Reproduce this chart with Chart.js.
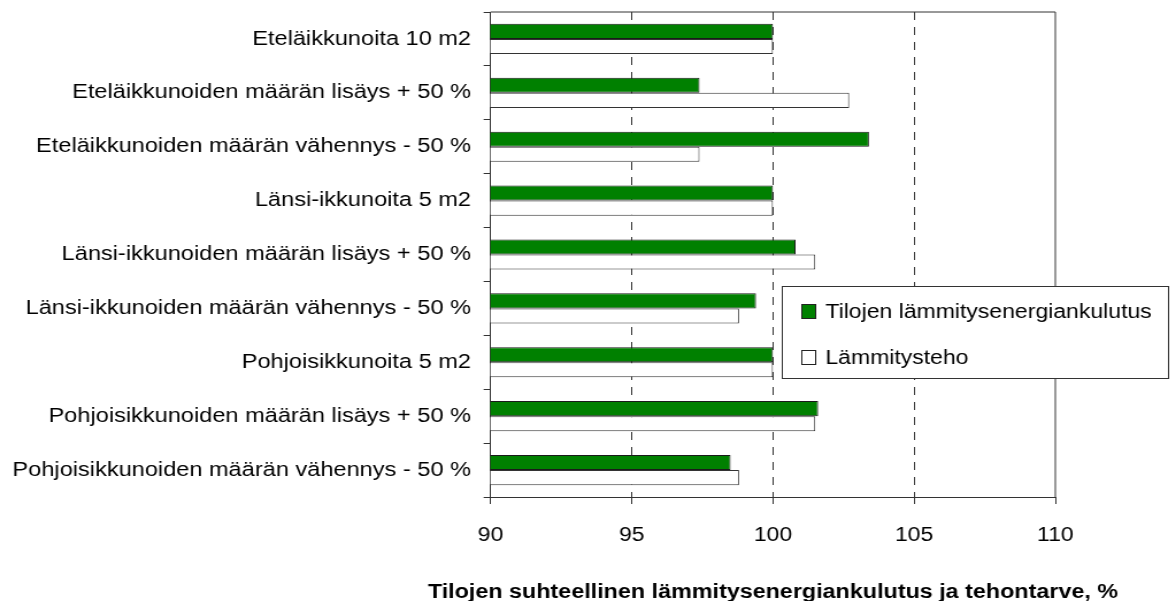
<!DOCTYPE html>
<html>
<head>
<meta charset="utf-8">
<script src="https://cdn.jsdelivr.net/npm/chart.js@4/dist/chart.umd.min.js"></script>
<style>
  html, body { margin: 0; padding: 0; background: #fff; overflow: hidden; }
  /* the original picture is a bit wider than tall, so stretch the canvas sideways */
  #wrap { width: 1023px; height: 601px; transform: scaleX(1.1496); transform-origin: 0 0; }
</style>
</head>
<body>
<div id="wrap"><canvas id="chart" width="1023" height="601"></canvas></div>
<script>
const categories = [
  "Eteläikkunoita 10 m2",
  "Eteläikkunoiden määrän lisäys + 50 %",
  "Eteläikkunoiden määrän vähennys - 50 %",
  "Länsi-ikkunoita 5 m2",
  "Länsi-ikkunoiden määrän lisäys + 50 %",
  "Länsi-ikkunoiden määrän vähennys - 50 %",
  "Pohjoisikkunoita 5 m2",
  "Pohjoisikkunoiden määrän lisäys + 50 %",
  "Pohjoisikkunoiden määrän vähennys - 50 %"
];
const seriesNames = ["Tilojen lämmitysenergiankulutus", "Lämmitysteho"];
const energyValues = [100, 97.4, 103.4, 100, 100.8, 99.4, 100, 101.6, 98.5];
const powerValues = [100, 102.7, 97.4, 100, 101.5, 98.8, 100, 101.5, 98.8];
const xTicks = [90, 95, 100, 105, 110];
const xTitle = "Tilojen suhteellinen lämmitysenergiankulutus ja tehontarve, %";

const FONT = "Arial, 'Liberation Sans', sans-serif";
const LINE = "#333";

// top and right edge of the plot box + the x axis title
// (chart.js squeezes the scale title to the axis width, the original is wider)
const frame = {
  id: "frame",
  afterDraw(chart) {
    const { ctx, chartArea: a } = chart;
    ctx.save();
    ctx.strokeStyle = LINE;
    ctx.lineWidth = 1;
    ctx.beginPath();
    ctx.moveTo(a.left, a.top);
    ctx.lineTo(a.right, a.top);
    ctx.lineTo(a.right, a.bottom);
    ctx.stroke();

    ctx.fillStyle = "#000";
    ctx.font = "bold 20.3px " + FONT;
    ctx.textAlign = "center";
    ctx.textBaseline = "alphabetic";
    ctx.fillText(xTitle, (a.left + a.right) / 2, 597.5);
    ctx.restore();
  }
};

// legend in a white box over the plot
const boxLegend = {
  id: "boxLegend",
  afterDraw(chart) {
    const ctx = chart.ctx;
    const x = 680, y = 286, w = 336, h = 92;
    ctx.save();
    ctx.fillStyle = "#fff";
    ctx.fillRect(x, y, w, h);
    ctx.strokeStyle = LINE;
    ctx.lineWidth = 1;
    ctx.strokeRect(x + 0.5, y + 0.5, w, h);
    ctx.font = "20px " + FONT;
    ctx.textBaseline = "middle";
    chart.data.datasets.forEach((ds, i) => {
      const cy = y + 25 + i * 46;
      ctx.fillStyle = ds.backgroundColor;
      ctx.fillRect(x + 17.5, cy - 6.5, 12, 14);
      ctx.strokeStyle = "#222";
      ctx.strokeRect(x + 17.5, cy - 6.5, 12, 14);
      ctx.fillStyle = "#000";
      ctx.fillText(ds.label, x + 38, cy + 1);
    });
    ctx.restore();
  }
};

new Chart(document.getElementById("chart"), {
  type: "bar",
  data: {
    labels: categories,
    datasets: [
      {
        label: seriesNames[0],
        data: energyValues,
        backgroundColor: "#008000",
        borderColor: "#1a1a1a",
        borderWidth: 1,
        borderSkipped: false
      },
      {
        label: seriesNames[1],
        data: powerValues,
        backgroundColor: "#ffffff",
        borderColor: "#333",
        borderWidth: 1,
        borderSkipped: false
      }
    ]
  },
  options: {
    indexAxis: "y",
    responsive: false,
    animation: false,
    devicePixelRatio: 1,
    categoryPercentage: 0.56,
    barPercentage: 1.0,
    layout: { padding: { top: 12, right: 105, left: 0, bottom: 0 } },
    plugins: {
      legend: { display: false },
      tooltip: { enabled: false }
    },
    scales: {
      x: {
        min: 90,
        max: 110,
        afterBuildTicks(s) { s.ticks = xTicks.map(v => ({ value: v })); },
        afterFit(s) { s.height = 104; },
        grid: {
          color: c => (c.tick && c.tick.value > 90 && c.tick.value < 110) ? LINE : "rgba(0,0,0,0)",
          tickColor: LINE,
          tickLength: 7,
          tickBorderDash: []
        },
        border: { color: LINE, width: 1, dash: [8, 7] },
        ticks: { color: "#000", padding: 19, font: { family: FONT, size: 20 } },
        title: { display: false }
      },
      y: {
        afterFit(s) {
          s.width = 426.7;
          s.paddingTop = 0;
          s.paddingBottom = 0;
        },
        grid: {
          offset: true,
          drawOnChartArea: false,
          tickColor: LINE,
          tickLength: 6
        },
        border: { color: LINE, width: 1 },
        ticks: { color: "#000", padding: 11, autoSkip: false, font: { family: FONT, size: 20.5 } }
      }
    }
  },
  plugins: [frame, boxLegend]
});
</script>
</body>
</html>
